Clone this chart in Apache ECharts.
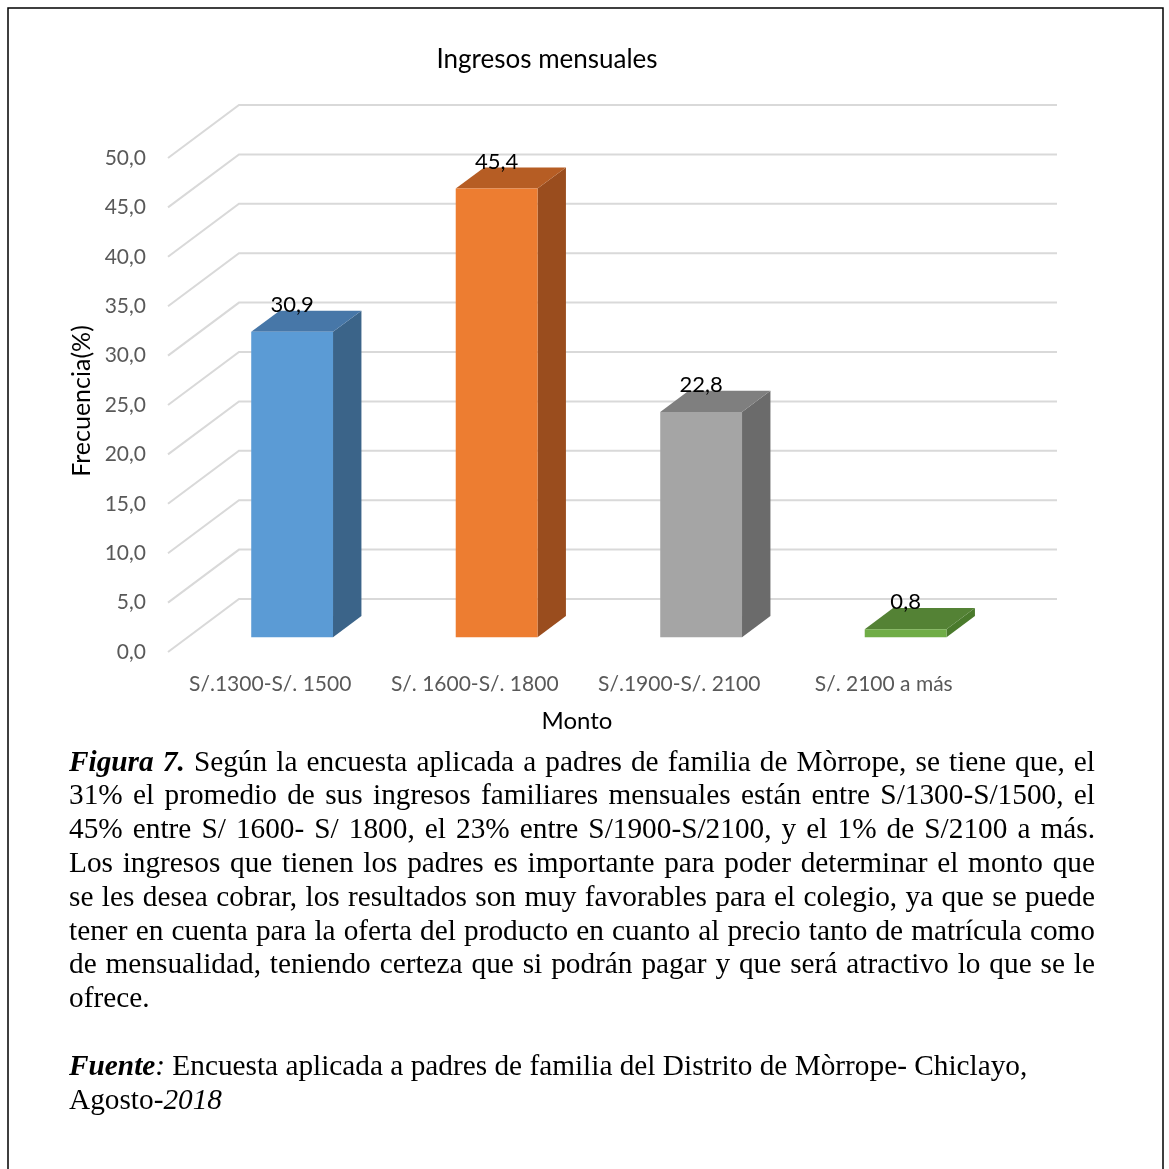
<!DOCTYPE html>
<html>
<head>
<meta charset="utf-8">
<script src="https://cdn.jsdelivr.net/npm/echarts@6/dist/echarts.min.js"></script>
<style>
html, body { margin: 0; padding: 0; background: #fff; }
#chart { width: 1169px; height: 1169px; }
</style>
</head>
<body>
<div id="chart"></div>
<script>
// Monthly household income brackets and the share of families in each (%)
const categories = ['S/.1300-S/. 1500', 'S/. 1600-S/. 1800', 'S/.1900-S/. 2100', 'S/. 2100 a más'];
const frecuencia = [30.9, 45.4, 22.8, 0.8];
const yTicks = [0, 5, 10, 15, 20, 25, 30, 35, 40, 45, 50];

// Face shades of each 3D column: front, top, right side
const palette = [
  { front: '#5B9BD5', top: '#4777A8', side: '#3B6489' },
  { front: '#ED7D31', top: '#B65D24', side: '#9A4D1E' },
  { front: '#A5A5A5', top: '#7F7F7F', side: '#6B6B6B' },
  { front: '#70AD47', top: '#548235', side: '#4A7A2C' }
];

// Caption paragraph: each line is a list of [style, text] runs
const captionLines = [
  { justify: true, runs: [['bi', 'Figura 7.'], ['n', ' Según la encuesta aplicada a padres de familia de Mòrrope, se tiene que, el']] },
  { justify: true, runs: [['n', '31% el promedio de sus ingresos familiares mensuales están entre S/1300-S/1500, el']] },
  { justify: true, runs: [['n', '45% entre S/ 1600- S/ 1800, el 23% entre S/1900-S/2100, y el 1% de S/2100 a más.']] },
  { justify: true, runs: [['n', 'Los ingresos que tienen los padres es importante para poder determinar el monto que']] },
  { justify: true, runs: [['n', 'se les desea cobrar, los resultados son muy favorables para el colegio, ya que se puede']] },
  { justify: true, runs: [['n', 'tener en cuenta para la oferta del producto en cuanto al precio tanto de matrícula como']] },
  { justify: true, runs: [['n', 'de mensualidad, teniendo certeza que si podrán pagar y que será atractivo lo que se le']] },
  { justify: false, runs: [['n', 'ofrece.']] },
  { justify: false, runs: [] },
  { justify: false, runs: [['bi', 'Fuente'], ['i', ':'], ['n', ' Encuesta aplicada a padres de familia del Distrito de Mòrrope- Chiclayo,']] },
  { justify: false, runs: [['n', 'Agosto-'], ['i', '2018']] }
];

const fmt = v => v.toFixed(1).replace('.', ',');

// Receding direction of the chart floor/back wall (pixels for full depth)
const WALL = [71, -53];
const BAR_NEAR = 0.28, BAR_FAR = 0.68;
const UI_FONT = 'Lato, "Open Sans", sans-serif';

function wallItem(params, api) {
  const cs = params.coordSys;
  const y = api.coord([0, api.value(1)])[1];
  return {
    type: 'polyline',
    shape: { points: [[cs.x, y], [cs.x + WALL[0], y + WALL[1]], [cs.x + cs.width + WALL[0], y + WALL[1]]] },
    style: { stroke: '#D9D9D9', lineWidth: 2, fill: null }
  };
}

function barItem(params, api) {
  const i = api.value(0), v = api.value(1);
  const base = api.coord([i, 0]);
  const yTop = api.coord([i, v])[1];
  const band = api.size([1, 0])[0];
  const w = band * 0.4;
  const nx = WALL[0] * BAR_NEAR, ny = WALL[1] * BAR_NEAR;
  const dx = WALL[0] * (BAR_FAR - BAR_NEAR), dy = WALL[1] * (BAR_FAR - BAR_NEAR);
  const xl = base[0] - w / 2 + nx + 2, xr = xl + w;
  const yb = base[1] + ny, yt = yTop + ny;
  const c = palette[i];
  return {
    type: 'group',
    children: [
      { type: 'polygon', shape: { points: [[xr, yb], [xr, yt], [xr + dx, yt + dy], [xr + dx, yb + dy]] }, style: { fill: c.side } },
      { type: 'polygon', shape: { points: [[xl, yt], [xr, yt], [xr + dx, yt + dy], [xl + dx, yt + dy]] }, style: { fill: c.top } },
      { type: 'rect', shape: { x: xl, y: yt, width: w, height: yb - yt }, style: { fill: c.front } },
      {
        type: 'text',
        style: {
          text: fmt(v), x: xl + w / 2, y: yt + dy - 6,
          align: 'center', verticalAlign: 'middle',
          fontSize: 22, fontFamily: UI_FONT, fill: '#000'
        }
      }
    ]
  };
}

// Caption layout: words are measured and spread to the full width on justified lines
const CAP = { left: 69, right: 1095, top: 763, lineH: 33.8, size: 29.3, family: '"Liberation Serif", "Times New Roman", serif' };
const measureCtx = document.createElement('canvas').getContext('2d');
function capFont(st) {
  const style = (st === 'bi' || st === 'i') ? 'italic' : 'normal';
  const weight = st === 'bi' ? 'bold' : 'normal';
  return { style, weight };
}
function measure(st, text) {
  const f = capFont(st);
  measureCtx.font = `${f.style} ${f.weight} ${CAP.size}px ${CAP.family}`;
  return measureCtx.measureText(text).width;
}
function splitWords(runs) {
  const out = []; let cur = [];
  runs.forEach(([st, tx]) => {
    tx.split(/( )/).forEach(p => {
      if (p === ' ') { if (cur.length) { out.push(cur); cur = []; } }
      else if (p) cur.push([st, p]);
    });
  });
  if (cur.length) out.push(cur);
  return out;
}
const captionGraphics = [];
captionLines.forEach((line, li) => {
  const ws = splitWords(line.runs);
  if (!ws.length) return;
  const widths = ws.map(w => w.reduce((s, [st, t]) => s + measure(st, t), 0));
  const total = widths.reduce((a, b) => a + b, 0);
  const gap = (line.justify && ws.length > 1) ? (CAP.right - CAP.left - total) / (ws.length - 1) : measure('n', ' ');
  let x = CAP.left;
  const y = CAP.top + li * CAP.lineH;
  ws.forEach((w) => {
    w.forEach(([st, t]) => {
      const f = capFont(st);
      captionGraphics.push({
        type: 'text', x: x, y: y,
        style: { text: t, fontFamily: CAP.family, fontSize: CAP.size, fontStyle: f.style, fontWeight: f.weight, fill: '#000', verticalAlign: 'middle' }
      });
      x += measure(st, t);
    });
    x += gap;
  });
});

const chart = echarts.init(document.getElementById('chart'));
chart.setOption({
  animation: false,
  backgroundColor: '#fff',
  title: {
    text: 'Ingresos mensuales',
    left: 542, top: 42, textAlign: 'center',
    textStyle: { fontFamily: UI_FONT, fontSize: 26, fontWeight: 'normal', color: '#000' }
  },
  grid: { left: 168, right: 183, top: 158, bottom: 517, containLabel: false },
  xAxis: {
    type: 'category',
    data: categories,
    name: 'Monto', nameLocation: 'middle', nameGap: 57,
    nameTextStyle: { fontFamily: UI_FONT, fontSize: 24, color: '#000' },
    axisLine: { show: false }, axisTick: { show: false },
    axisLabel: { interval: 0, margin: 22, fontFamily: UI_FONT, fontSize: 21, color: '#595959' },
    splitLine: { show: false }
  },
  yAxis: {
    type: 'value', min: 0, max: 50, interval: 5,
    axisLine: { show: false }, axisTick: { show: false },
    axisLabel: { margin: 22, fontFamily: UI_FONT, fontSize: 21, color: '#595959', formatter: fmt },
    splitLine: { show: false }
  },
  series: [
    {
      type: 'custom', name: 'pared', clip: false, z: 1,
      renderItem: wallItem,
      encode: { x: 0, y: 1 },
      data: yTicks.map(v => [0, v]),
      silent: true
    },
    {
      type: 'custom', name: 'Frecuencia', clip: false, z: 2,
      renderItem: barItem,
      encode: { x: 0, y: 1 },
      data: frecuencia.map((v, i) => [i, v])
    }
  ],
  graphic: [
    { type: 'rect', shape: { x: 8, y: 8, width: 1155, height: 1300 }, style: { fill: 'rgba(0,0,0,0)', stroke: '#000', lineWidth: 1.5 }, silent: true },
    {
      type: 'text', x: 82, y: 401, rotation: Math.PI / 2,
      style: { text: 'Frecuencia(%)', fontFamily: UI_FONT, fontSize: 25, fill: '#000', align: 'center', verticalAlign: 'middle' }
    }
  ].concat(captionGraphics)
});
</script>
</body>
</html>
